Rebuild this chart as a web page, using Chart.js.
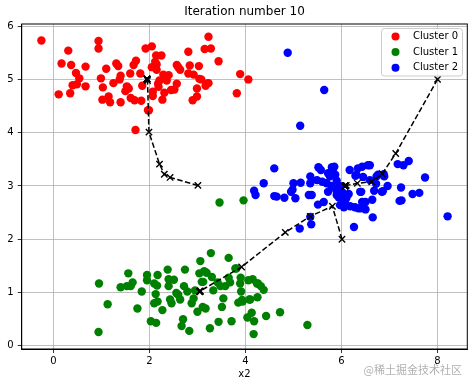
<!DOCTYPE html>
<html>
<head>
<meta charset="utf-8">
<script src="https://cdn.jsdelivr.net/npm/chart.js@4.4.1/dist/chart.umd.min.js"></script>
<style>
  body { margin: 0; background: #fff; }
  canvas { display: block; }
</style>
</head>
<body>
<canvas id="grafico" width="474" height="387"></canvas>
<script>
// puntos de cada cluster
const cluster0X = [-0.25,0.31,0.17,0.37,0.67,0.47,0.54,0.49,0.40,0.67,0.11,0.35,0.94,0.94,0.99,1.03,1.02,1.10,1.15,1.18,1.25,1.31,1.35,1.38,1.40,1.40,1.50,1.53,1.57,1.60,1.61,1.67,1.69,1.72,1.71,1.81,1.83,1.85,1.92,1.97,1.99,2.05,2.05,2.07,2.07,2.12,2.14,2.15,2.15,2.18,2.19,2.21,2.25,2.27,2.29,2.31,2.36,2.40,2.45,2.52,2.57,2.57,2.60,2.64,2.81,2.81,2.84,2.90,2.92,2.99,2.99,3.03,3.04,3.08,3.15,3.17,3.19,3.23,3.28,3.23,3.44,3.82,3.89,4.06];
const cluster0Y = [5.73,5.54,5.30,5.27,5.24,5.12,5.02,4.91,4.89,4.87,4.72,4.74,5.72,5.58,5.02,4.85,4.62,5.20,4.68,4.57,4.93,5.30,5.25,5.00,5.07,4.57,4.78,4.87,4.83,5.11,4.65,5.27,4.61,5.35,4.05,5.11,4.60,4.88,5.58,4.42,4.42,5.62,5.23,4.77,4.69,5.33,5.45,5.28,5.18,4.92,4.86,4.98,5.45,4.62,5.09,4.75,4.98,5.08,4.80,4.81,4.92,5.27,5.23,5.18,5.52,5.11,5.26,4.61,5.09,4.83,4.68,5.25,5.01,5.00,5.57,4.88,4.92,5.80,5.58,4.93,5.34,4.74,5.10,5.00];

const cluster1X = [0.95,0.94,1.13,1.40,1.56,1.53,1.61,1.65,1.75,1.84,1.95,1.95,2.03,2.10,2.13,2.16,2.17,2.14,2.10,2.17,2.27,2.38,2.40,2.40,2.43,2.46,2.51,2.56,2.60,2.64,2.70,2.67,2.74,2.72,2.79,2.83,2.88,2.92,2.95,3.00,3.04,3.06,3.09,3.11,3.12,3.14,3.17,3.19,3.28,3.26,3.30,3.33,3.44,3.42,3.48,3.51,3.54,3.58,3.65,3.65,3.68,3.71,3.81,3.85,3.90,3.89,3.91,3.93,4.04,4.06,4.10,4.13,4.17,4.24,4.25,3.79,3.94,4.08,4.15,4.18,4.26,4.32,4.38,4.43,4.72,5.29,3.46,3.96];
const cluster1Y = [1.17,0.26,0.78,1.10,1.36,1.12,1.12,1.19,0.70,1.02,1.33,1.23,0.46,1.17,0.97,1.13,1.33,0.43,0.80,0.83,0.67,1.43,1.25,1.12,0.87,0.80,1.24,0.99,0.96,0.87,0.50,0.37,1.43,1.12,1.02,0.28,0.80,0.89,1.04,0.64,1.36,1.59,1.20,0.73,1.20,1.40,0.70,1.37,1.74,0.33,1.29,1.04,0.45,1.19,1.12,0.73,0.89,1.12,1.65,1.28,1.19,0.46,1.45,0.81,1.28,1.17,1.02,0.86,0.53,1.23,0.87,0.62,0.22,1.17,0.91,1.45,0.83,0.87,1.25,0.46,1.17,1.12,1.05,0.56,0.63,0.39,2.69,2.73];

const cluster2X = [4.60,4.38,4.18,4.21,4.60,4.65,4.81,4.95,4.98,5.04,5.00,5.15,5.35,5.35,5.32,5.38,5.49,5.52,5.57,5.60,5.69,5.72,5.76,5.79,5.82,5.85,5.87,5.72,5.89,5.90,5.51,5.63,5.35,5.37,5.13,5.97,6.00,6.04,5.94,5.97,6.07,6.10,6.26,6.17,6.31,6.34,6.43,6.45,6.41,6.43,6.40,6.50,6.50,6.59,6.59,6.64,6.65,6.68,6.72,6.73,6.76,6.86,6.89,6.96,7.17,7.29,7.40,7.24,7.25,7.21,7.48,7.62,7.74,8.21,4.88,5.64,5.14,5.53,5.80,6.18,6.28,6.35,6.39,6.84,5.95,6.02,5.90,6.15,6.05,6.88,6.55,6.29];
const cluster2Y = [3.33,3.05,2.91,2.83,2.81,2.80,2.78,2.89,2.93,2.77,3.05,3.06,3.18,3.05,2.83,2.83,3.11,3.35,3.30,3.08,3.05,3.24,3.18,3.00,3.30,3.36,3.21,2.89,2.92,2.83,2.65,2.70,2.42,2.28,2.20,2.92,2.73,2.79,2.79,2.64,2.67,2.77,2.23,3.30,3.21,3.33,3.36,3.17,2.89,2.70,2.58,2.56,2.70,3.39,3.11,2.74,2.41,2.91,3.04,3.18,3.21,2.90,3.18,3.00,3.41,3.39,3.47,2.97,2.73,2.72,2.85,2.87,3.16,2.43,5.50,4.80,4.13,3.34,3.35,2.62,2.60,2.58,2.89,2.89,3.00,2.88,3.10,2.85,2.60,3.22,3.39,3.19];

// recorrido de los centroides
const path0X = [3.01,2.43,2.31,2.21,1.99,1.96,1.95,1.95,1.95,1.95,1.95];
const path0Y = [3.01,3.16,3.22,3.41,4.01,4.98,5.00,5.01,5.01,5.01,5.01];
const path1X = [6.01,5.81,5.35,4.83,3.92,3.06,3.05,3.05,3.05,3.05,3.05];
const path1Y = [2.00,2.62,2.43,2.13,1.48,1.03,1.02,1.02,1.02,1.02,1.02];
const path2X = [8.00,7.13,6.85,6.63,6.33,6.10,6.08,6.07,6.07,6.07,6.07];
const path2Y = [5.00,3.61,3.23,3.08,3.05,3.01,3.00,3.00,3.00,3.00,3.00];

const labels = ["Cluster 0", "Cluster 1", "Cluster 2"];
const colores = ["red", "green", "blue"];
const xTicks = [0, 2, 4, 6, 8];
const yTicks = [0, 1, 2, 3, 4, 5, 6];

function puntos(xs, ys) {
    return xs.map((x, i) => ({x: x, y: ys[i]}));
}

function recorrido(xs, ys) {
    return {
        type: 'line',
        data: puntos(xs, ys),
        borderColor: '#000',
        borderWidth: 1.5,
        borderDash: [5.5, 2.5],
        tension: 0,
        fill: false,
        pointStyle: 'crossRot',
        pointRadius: 4.5,
        pointBorderColor: '#000',
        pointBorderWidth: 1.4,
        order: 0
    };
}

const clusters = [[cluster0X, cluster0Y], [cluster1X, cluster1Y], [cluster2X, cluster2Y]];
const datasets = [recorrido(path0X, path0Y), recorrido(path1X, path1Y), recorrido(path2X, path2Y)];
clusters.forEach((c, i) => {
    datasets.push({
        type: 'scatter',
        label: labels[i],
        data: puntos(c[0], c[1]),
        backgroundColor: colores[i],
        borderWidth: 0,
        pointRadius: 4.2,
        order: 1
    });
});

const fuente = {family: 'DejaVu Sans', size: 10};

// titulo, marco, leyenda y marca de agua
const extras = {
    id: 'extras',
    beforeDraw(chart) {
        const c = chart.ctx;
        c.save();
        c.fillStyle = '#fff';
        c.fillRect(0, 0, chart.width, chart.height);
        c.restore();
    },
    afterDraw(chart) {
        const c = chart.ctx;
        const a = chart.chartArea;
        c.save();
        c.strokeStyle = '#000';
        c.lineWidth = 1;
        c.strokeRect(a.left, a.top, a.right - a.left, a.bottom - a.top);

        c.fillStyle = '#000';
        c.font = '12px "DejaVu Sans"';
        c.textAlign = 'center';
        c.textBaseline = 'middle';
        c.fillText('Iteration number 10', (a.left + a.right) / 2, 12);

        // leyenda
        const bx = 381.5, by = 28.5, bw = 81, bh = 47.5;
        c.beginPath();
        c.roundRect(bx, by, bw, bh, 3);
        c.fillStyle = 'rgba(255,255,255,0.8)';
        c.fill();
        c.strokeStyle = '#cccccc';
        c.lineWidth = 1;
        c.stroke();
        c.font = '10px "DejaVu Sans"';
        c.textAlign = 'left';
        labels.forEach((l, i) => {
            const y = 36.5 + i * 15.6;
            c.beginPath();
            c.arc(395.5, y, 4, 0, Math.PI * 2);
            c.fillStyle = colores[i];
            c.fill();
            c.fillStyle = '#000';
            c.fillText(l, 413, y);
        });

        c.font = '11px "Noto Sans CJK SC"';
        c.textAlign = 'right';
        c.fillStyle = 'rgba(150,150,150,0.75)';
        c.fillText('@稀土掘金技术社区', 462, 370);
        c.restore();
    }
};

const ctx = document.getElementById("grafico").getContext("2d");
new Chart(ctx, {
    type: 'scatter',
    data: {datasets: datasets},
    options: {
        responsive: false,
        animation: false,
        layout: {padding: {top: 24, right: 6.7, left: 0, bottom: 0}},
        plugins: {legend: {display: false}, tooltip: {enabled: false}},
        scales: {
            x: {
                type: 'linear',
                min: -0.66,
                max: 8.62,
                afterBuildTicks: (axis) => { axis.ticks = xTicks.map(v => ({value: v})); },
                afterFit: (s) => { s.height = 38; },
                ticks: {color: '#000', font: fuente, padding: 2, maxRotation: 0, autoSkip: false},
                grid: {color: '#b0b0b0', lineWidth: 0.8, tickLength: 4, tickColor: '#000'},
                border: {color: '#000', width: 1},
                title: {display: true, text: 'x2', color: '#000', font: fuente, padding: {top: 0, bottom: 7}}
            },
            y: {
                type: 'linear',
                min: -0.06,
                max: 6.04,
                afterBuildTicks: (axis) => { axis.ticks = yTicks.map(v => ({value: v})); },
                afterFit: (s) => { s.width = 21.7; },
                ticks: {color: '#000', font: fuente, padding: 4, autoSkip: false},
                grid: {color: '#b0b0b0', lineWidth: 0.8, tickLength: 4, tickColor: '#000'},
                border: {color: '#000', width: 1}
            }
        }
    },
    plugins: [extras]
});
</script>
</body>
</html>
